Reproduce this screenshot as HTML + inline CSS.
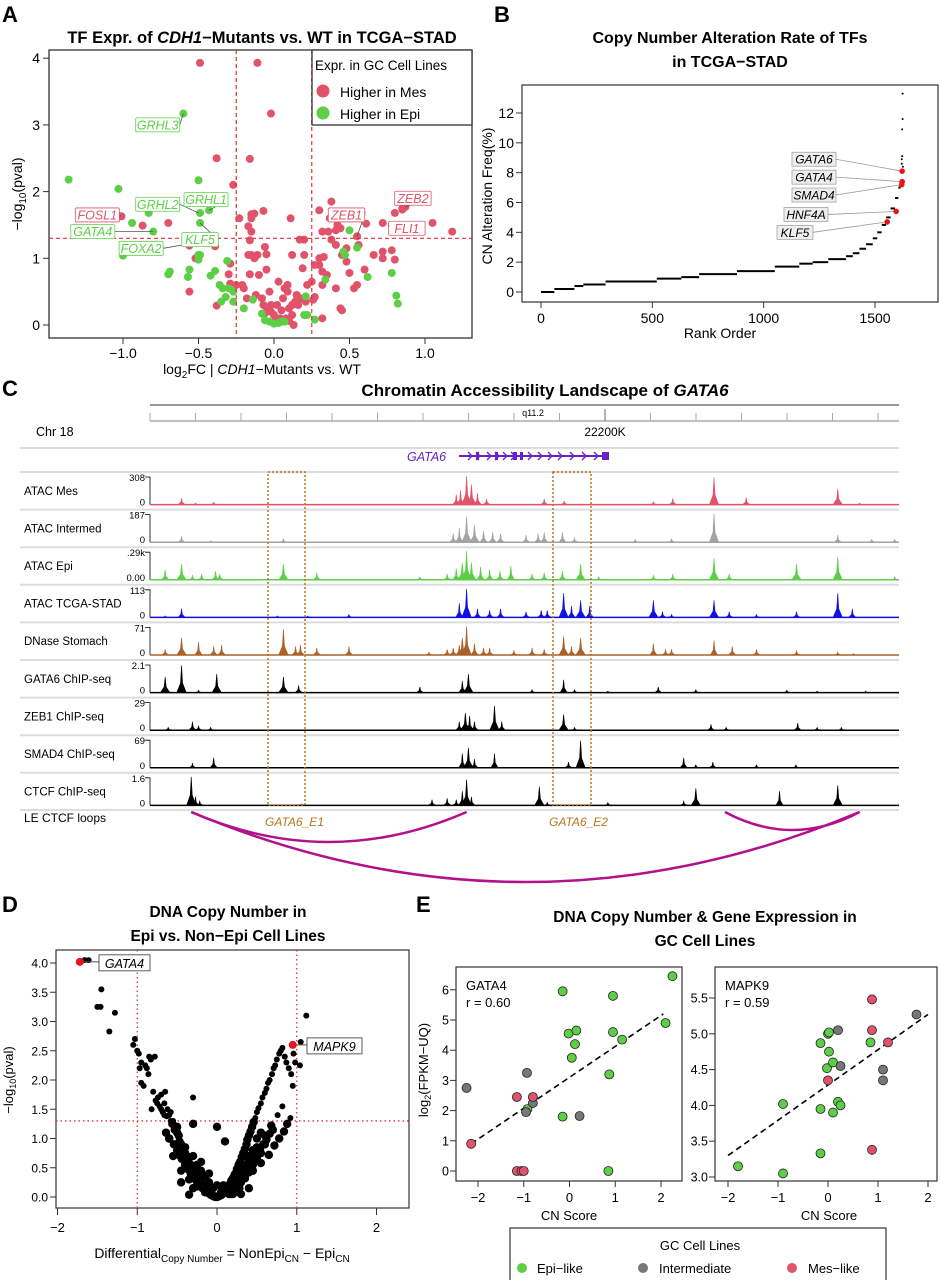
<!DOCTYPE html>
<html><head><meta charset="utf-8"><style>
html,body{margin:0;padding:0;background:#fff;}
svg{display:block;font-family:"Liberation Sans",sans-serif;}
</style></head><body>
<svg id="fig" width="940" height="1280" viewBox="0 0 940 1280" xmlns="http://www.w3.org/2000/svg">
<g>
<text x="2" y="22" font-size="22" font-weight="bold">A</text>
<text x="262" y="43" font-size="16.5" font-weight="bold" text-anchor="middle">TF Expr. of <tspan font-style="italic">CDH1</tspan>−Mutants vs. WT in TCGA−STAD</text>
<rect x="49" y="50" width="423" height="288" fill="none" stroke="#333" stroke-width="1.3"/>
<text transform="translate(22,194) rotate(-90)" font-size="14" text-anchor="middle">−log<tspan font-size="10" dy="4">10</tspan><tspan dy="-4">(pval)</tspan></text>
<text x="262" y="374" font-size="14" text-anchor="middle">log<tspan font-size="10" dy="4">2</tspan><tspan dy="-4">FC | </tspan><tspan font-style="italic">CDH1</tspan>−Mutants vs. WT</text>
<g id="aPts"></g>
<g id="aAxes"></g>
<g>
<rect x="312" y="50" width="160" height="75" fill="#fff" stroke="#333" stroke-width="1.3"/>
<text x="315" y="70" font-size="13.5">Expr. in GC Cell Lines</text>
<circle cx="323" cy="91" r="6.5" fill="#e0536a"/>
<text x="340" y="97" font-size="14">Higher in Mes</text>
<circle cx="323" cy="113" r="6.5" fill="#5ccf47"/>
<text x="340" y="119" font-size="14">Higher in Epi</text>
</g>
</g>
<g>
<text x="494" y="22" font-size="22" font-weight="bold">B</text>
<text x="730" y="43" font-size="16" font-weight="bold" text-anchor="middle">Copy Number Alteration Rate of TFs</text>
<text x="730" y="67" font-size="16" font-weight="bold" text-anchor="middle">in TCGA−STAD</text>
<rect x="522" y="85" width="416" height="217" fill="none" stroke="#333" stroke-width="1.2"/>
<text transform="translate(492,196) rotate(-90)" font-size="14" text-anchor="middle">CN Alteration Freq(%)</text>
<text x="720" y="338" font-size="14" text-anchor="middle">Rank Order</text>
<g id="bPlot"></g>
</g>
<g>
<text x="2" y="396" font-size="22" font-weight="bold">C</text>
<text x="545" y="396" font-size="17" font-weight="bold" text-anchor="middle">Chromatin Accessibility Landscape of <tspan font-style="italic">GATA6</tspan></text>
<line x1="150" y1="405" x2="899" y2="405" stroke="#999" stroke-width="2"/>
<line x1="150" y1="421" x2="899" y2="421" stroke="#aaa" stroke-width="1.5"/>
<text x="533" y="416" font-size="9" text-anchor="middle">q11.2</text>
<text x="605" y="436" font-size="12" text-anchor="middle">22200K</text>
<text x="36" y="436" font-size="12.5">Chr 18</text>
<g id="cTracks"></g>
<text x="407" y="461" font-size="12.5" font-style="italic" fill="#6a22c4">GATA6</text>
<g id="cGene"></g>
<text x="24" y="822" font-size="12">LE CTCF loops</text>
<text x="265" y="826" font-size="12" font-style="italic" fill="#b8741e">GATA6_E1</text>
<text x="549" y="826" font-size="12" font-style="italic" fill="#b8741e">GATA6_E2</text>
<rect x="268" y="472" width="37" height="333" fill="none" stroke="#b8741e" stroke-width="1.5" stroke-dasharray="2,2"/>
<rect x="553" y="472" width="38" height="333" fill="none" stroke="#b8741e" stroke-width="1.5" stroke-dasharray="2,2"/>
<g id="cLoops"></g>
</g>
<g>
<text x="2" y="912" font-size="22" font-weight="bold">D</text>
<text x="228" y="917" font-size="15.5" font-weight="bold" text-anchor="middle">DNA Copy Number in</text>
<text x="228" y="941" font-size="15.5" font-weight="bold" text-anchor="middle">Epi vs. Non−Epi Cell Lines</text>
<rect x="56" y="950" width="353" height="258" fill="none" stroke="#333" stroke-width="1.2"/>
<text transform="translate(13,1080) rotate(-90)" font-size="13" text-anchor="middle">−log<tspan font-size="9" dy="3">10</tspan><tspan dy="-3">(pval)</tspan></text>
<text x="222" y="1258" font-size="14" text-anchor="middle">Differential<tspan font-size="10" dy="4">Copy Number</tspan><tspan dy="-4"> = NonEpi</tspan><tspan font-size="10" dy="4">CN</tspan><tspan dy="-4"> − Epi</tspan><tspan font-size="10" dy="4">CN</tspan></text>
<g id="dPlot"></g>
</g>
<g>
<text x="416" y="912" font-size="22" font-weight="bold">E</text>
<text x="705" y="922" font-size="15.5" font-weight="bold" text-anchor="middle">DNA Copy Number &amp; Gene Expression in</text>
<text x="705" y="946" font-size="15.5" font-weight="bold" text-anchor="middle">GC Cell Lines</text>
<text transform="translate(428,1070) rotate(-90)" font-size="13" text-anchor="middle">log<tspan font-size="9" dy="3">2</tspan><tspan dy="-3">(FPKM−UQ)</tspan></text>
<text x="569" y="1220" font-size="13" text-anchor="middle">CN Score</text>
<text x="829" y="1220" font-size="13" text-anchor="middle">CN Score</text>
<g id="ePlot"></g>
<g>
<rect x="510" y="1228" width="376" height="55" fill="#fff" stroke="#333" stroke-width="1.2"/>
<text x="700" y="1250" font-size="13" text-anchor="middle">GC Cell Lines</text>
<circle cx="522" cy="1268" r="5" fill="#5ccf47"/>
<text x="537" y="1273" font-size="13">Epi−like</text>
<circle cx="643" cy="1268" r="5" fill="#777"/>
<text x="659" y="1273" font-size="13">Intermediate</text>
<circle cx="792" cy="1268" r="5" fill="#e0536a"/>
<text x="808" y="1273" font-size="13">Mes−like</text>
</g>
</g>
</svg>
<script>
// ---------- Panel A data ----------
const aMesX=[-0.49,-0.11,-0.02,-0.38,-0.16,-0.27,-1.01,-0.87,-0.70,-0.56,-0.52,-0.39,-0.56,-0.38,-0.29,-0.30,-0.29,-0.25,-0.23,-0.15,-0.13,-0.15,-0.07,-0.17,-0.15,-0.13,-0.16,-0.06,-0.05,-0.17,-0.15,-0.11,-0.05,-0.10,-0.16,-0.21,-0.20,-0.18,-0.12,-0.08,-0.07,-0.04,-0.02,0.00,0.02,0.05,0.07,0.09,0.10,0.12,0.14,0.16,0.18,0.20,0.12,0.08,0.04,0.11,0.12,0.17,0.20,0.20,0.19,0.21,0.27,0.25,0.27,0.30,0.30,0.32,0.33,0.30,0.32,0.35,0.32,0.37,0.38,0.36,0.38,0.41,0.41,0.42,0.44,0.45,0.48,0.50,0.48,0.56,0.55,0.58,0.61,0.60,0.55,0.53,0.44,0.45,0.32,0.41,0.72,0.72,0.66,0.72,0.78,0.80,0.78,0.81,0.85,0.85,0.87,0.84,0.80,1.05,1.18,-0.02,-0.06,0.06,0.15,0.09,-0.03,0.03,0.22,0.10,0.00,0.13,0.26];
const aMesY=[3.93,3.93,3.17,2.50,2.49,2.10,1.63,1.49,1.53,1.19,1.00,1.18,0.50,0.29,0.92,0.76,0.62,0.60,1.60,1.66,1.67,1.60,1.71,1.48,1.40,1.00,1.27,1.17,1.06,1.05,1.05,1.05,0.83,0.75,0.76,0.60,0.55,0.40,0.45,0.40,0.30,0.25,0.20,0.15,0.30,0.22,0.55,0.60,0.25,0.30,0.35,0.30,0.40,0.38,0.15,0.10,0.10,1.60,1.05,1.28,1.28,1.05,0.85,0.35,0.42,0.65,0.90,1.00,1.72,1.40,1.02,0.90,0.80,0.75,0.60,1.60,1.85,1.40,1.28,1.42,1.20,1.50,1.45,1.05,0.95,0.78,1.15,1.20,1.33,1.68,1.52,0.83,0.60,0.55,0.25,0.22,0.10,0.55,1.53,1.10,1.05,1.00,1.12,1.68,1.50,1.50,1.73,1.75,1.77,1.40,0.98,1.53,1.40,0.30,0.18,0.40,0.45,0.50,0.50,0.65,0.60,0.06,0.05,0.00,0.38];
const aEpiX=[-1.36,-1.03,-0.94,-1.00,-0.83,-0.80,-0.69,-0.70,-0.57,-0.56,-0.60,-0.50,-0.49,-0.43,-0.49,-0.53,-0.50,-0.49,-0.50,-0.39,-0.42,-0.36,-0.34,-0.31,-0.30,-0.27,-0.32,-0.27,-0.20,-0.14,-0.08,-0.06,-0.03,0.00,0.03,0.05,0.07,0.21,0.20,0.22,0.27,0.34,0.46,0.47,0.50,0.55,0.62,0.78,0.81,0.82,-0.35];
const aEpiY=[2.18,2.04,1.53,1.04,1.68,1.40,0.80,0.76,0.72,0.83,3.17,2.17,1.68,1.72,1.53,1.23,1.05,1.05,0.98,0.81,0.74,0.60,0.55,0.96,0.55,0.50,0.42,0.35,0.25,0.38,0.17,0.07,0.05,0.02,0.03,0.05,0.05,0.43,0.15,0.15,0.08,0.68,1.10,1.05,1.42,1.16,0.72,0.78,0.44,0.32,0.35];
const aXTicks=["-1.0","-0.5","0.0","0.5","1.0"];
const aYTicks=["0","1","2","3","4"];
const aLabNames=["GRHL3","FOSL1","GRHL2","GRHL1","GATA4","FOXA2","KLF5","ZEB2","ZEB1","FLI1"];
const aLabGroup=["epi","mes","epi","epi","epi","epi","epi","mes","mes","mes"];
const aLabX=[-0.77,-1.17,-0.77,-0.45,-1.20,-0.88,-0.49,0.92,0.48,0.88];
const aLabY=[3.00,1.65,1.81,1.88,1.40,1.15,1.28,1.90,1.65,1.45];
const aPtX=[-0.6,-1.01,-0.50,-0.43,-0.80,-0.53,-0.49,0.87,0.55,0.84];
const aPtY=[3.17,1.63,1.68,1.72,1.40,1.23,1.53,1.77,1.33,1.50];

// ---------- Panel B data ----------
const bRankBreaks=[0,60,150,190,290,520,630,710,880,1050,1160,1220,1290,1370,1400,1430,1460,1490,1510,1530,1550,1570,1590,1605,1615];
const bFreqVals=[0,0.2,0.4,0.5,0.7,0.9,1.0,1.2,1.4,1.7,1.9,2.0,2.2,2.4,2.6,2.9,3.2,3.6,4.0,4.5,5.0,5.6,6.3,7.0];
const bOutRank=[1620,1620,1622,1622,1624,1624,1625];
const bOutFreq=[8.6,8.9,9.1,10.9,11.6,13.3,8.4];
const bHighNames=["GATA6","GATA4","SMAD4","HNF4A","KLF5"];
const bHighRank=[1622,1622,1620,1595,1555];
const bHighFreq=[8.1,7.4,7.2,5.4,4.7];
const bLabelFreq=[8.9,7.7,6.5,5.2,4.0];
const bXTicks=[0,500,1000,1500];
const bYTicks=[0,2,4,6,8,10,12];

// ---------- Panel C data ----------
const cTrackNames=["ATAC Mes","ATAC Intermed","ATAC Epi","ATAC TCGA-STAD","DNase Stomach","GATA6 ChIP-seq","ZEB1 ChIP-seq","SMAD4 ChIP-seq","CTCF ChIP-seq"];
const cTrackMax=["308","187",".29k","113","71","2.1","29","69","1.6"];
const cTrackMin=["0","0","0.00","0","0","0","0","0","0"];
const cTrackColors=["#e0536a","#a3a3a3","#5ccf47","#1212e0","#a8622a","#000","#000","#000","#000"];
const cPeakPos=[
[52,75,105,505,512,522,530,540,555,650,683,830,862,930,983,1134,1170],
[52,100,220,500,510,522,535,550,565,578,620,640,650,680,700,800,860,930,1134,1190,1228],
[25,52,70,85,108,115,220,275,445,490,505,515,522,530,545,560,577,595,630,650,680,710,740,830,862,930,955,1066,1134,1228],
[25,52,210,260,328,510,522,540,560,578,620,645,655,682,695,710,725,830,845,860,930,955,1000,1066,1134,1158],
[25,52,80,105,118,220,240,248,275,328,460,490,500,510,515,522,535,550,560,600,630,650,682,695,710,830,850,860,930,960,1000,1066,1134,1160],
[25,52,80,110,220,245,445,515,525,630,682,700,755,838,900,1050,1100,1180],
[30,70,80,100,510,520,527,535,568,580,682,700,925,950,1068,1100,1140],
[70,105,515,525,535,568,690,710,880,900,928,1000,1065],
[68,75,82,250,465,490,505,515,522,530,642,655,755,880,900,1038,1134]];
const cPeakHt=[
[.22,.05,.08,.35,.5,1.0,.7,.4,.2,.2,.12,.1,.22,.95,.25,.55,.05],
[.2,.05,.12,.3,.5,.9,.6,.4,.35,.3,.25,.3,.35,.35,.15,.1,.12,1.0,.25,.1,.1],
[.35,.55,.15,.2,.3,.2,.55,.25,.1,.2,.4,.6,1.0,.6,.45,.35,.3,.5,.2,.25,.3,.55,.1,.15,.2,.75,.2,.55,.8,.1],
[.05,.3,.05,.05,.1,.5,1.0,.3,.25,.3,.2,.25,.25,.85,.4,.6,.4,.6,.2,.1,.6,.2,.1,.2,.85,.3],
[.2,.6,.45,.3,.35,.9,.3,.35,.25,.3,.1,.2,.25,.35,.6,1.0,.4,.25,.25,.15,.25,.2,.65,.3,.6,.4,.2,.2,.5,.3,.2,.15,.1,.05],
[.55,.95,.08,.65,.55,.25,.2,.4,.65,.1,.45,.1,.05,.2,.1,.08,.05,.05],
[.1,.3,.15,.1,.3,.6,.5,.3,.85,.3,.55,.1,.2,.1,.25,.1,.1],
[.15,.35,.5,.7,.3,.5,.2,.95,.35,.1,.2,.1,.1],
[1.0,.3,.15,.05,.2,.25,.2,.5,.9,.3,.65,.1,.1,.15,.6,.5,.7]];
const cGenomeMax=1235;
const cLoopStart=[68,68,948];
const cLoopEnd=[522,1170,1170];
const cLoopDepth=[30,70,18];

// ---------- Panel D data ----------
const dX=[-1.72,-1.66,-1.61,-1.45,-1.50,-1.46,-1.28,-1.35,-1.03,-1.05,-1.00,-0.98,-0.95,-0.97,-0.90,-0.85,-0.78,-0.95,-0.92,-0.80,-0.70,-0.65,-0.75,-0.70,-0.62,-0.60,-0.55,-0.52,-0.88,-0.83,-0.86,-0.77,-0.72,-0.68,-0.66,-0.63,-0.58,-0.56,-0.53,-0.50,-0.48,-0.47,-0.45,-0.43,-0.42,-0.40,-0.38,-0.36,-0.35,-0.33,-0.31,-0.30,-0.28,-0.27,-0.25,-0.24,-0.22,-0.20,-0.19,-0.17,-0.15,-0.14,-0.12,-0.10,-0.09,-0.07,-0.05,-0.04,-0.02,0.00,0.01,0.03,0.05,0.06,0.08,0.10,0.11,0.13,0.15,0.17,0.18,0.20,0.22,0.24,0.25,0.27,0.29,0.31,0.33,0.35,0.37,0.38,0.40,0.42,0.44,0.46,0.48,0.50,0.52,0.55,0.57,0.60,0.62,0.64,0.66,0.69,0.71,0.73,0.75,0.78,0.80,0.82,0.85,0.87,0.90,0.93,0.96,0.98,1.05,1.12,1.04,0.95,-0.54,-0.50,-0.46,-0.44,-0.40,-0.37,-0.33,-0.30,-0.26,-0.22,-0.18,-0.14,-0.10,-0.06,-0.02,0.02,0.06,0.10,0.14,0.18,0.22,0.26,0.30,0.34,0.38,0.42,0.46,0.50,0.54,0.58,0.62,0.66,0.70,-0.60,-0.64,-0.45,-0.35,-0.25,-0.15,-0.05,0.05,0.15,0.25,0.35,0.45,0.55,0.65,0.72,0.78,0.84,0.88,0.92,-0.82,-0.74,-0.66,-0.58,-0.30,-0.20,-0.10,0.00,0.10,0.20,0.30,0.40,0.50,0.60,0.68,0.76,0.82,-0.30,-0.18,-0.08,0.08,0.18,0.28,
-0.45,-0.40,-0.35,-0.30,-0.25,-0.20,-0.15,-0.10,-0.35,-0.30,-0.25,-0.20,-0.15,-0.10,-0.05,0.05,0.10,0.15,0.20,0.25,0.30,0.35,0.40,0.45,0.10,0.15,0.20,0.25,0.30,0.35,0.40,0.45,0.50,0.55,0.60,0.50,0.55,-0.50,-0.45,-0.40,-0.55,-0.60,0.00,-0.08,0.08,-0.20,0.20,0.30,-0.30,0.40];
const dY=[4.02,4.05,4.05,3.55,3.25,3.25,3.15,2.83,2.70,2.60,2.50,2.45,2.30,2.20,2.25,2.40,2.40,1.95,1.90,1.80,1.75,1.80,1.60,1.50,1.50,1.40,1.30,1.20,2.20,2.35,2.10,1.65,1.55,1.45,1.40,1.38,1.30,1.25,1.15,1.10,1.05,0.95,0.90,0.85,0.80,0.75,0.70,0.62,0.58,0.55,0.50,0.45,0.42,0.38,0.35,0.30,0.25,0.22,0.18,0.15,0.12,0.10,0.08,0.06,0.05,0.03,0.02,0.01,0.00,0.00,0.01,0.02,0.04,0.06,0.08,0.10,0.13,0.16,0.20,0.24,0.28,0.32,0.38,0.42,0.48,0.55,0.60,0.68,0.75,0.82,0.90,0.98,1.05,1.12,1.20,1.28,1.35,1.45,1.52,1.60,1.70,1.78,1.85,1.95,2.00,2.10,2.20,2.25,2.35,2.45,2.50,2.55,2.40,2.30,2.20,2.10,2.45,2.30,2.65,3.10,2.25,1.90,0.90,0.80,0.70,0.65,0.55,0.48,0.40,0.35,0.28,0.22,0.15,0.10,0.06,0.03,0.01,0.01,0.04,0.08,0.13,0.18,0.24,0.30,0.38,0.45,0.52,0.60,0.68,0.75,0.82,0.90,0.98,1.08,1.15,1.00,1.10,0.45,0.30,0.18,0.08,0.02,0.03,0.10,0.20,0.32,0.45,0.58,0.72,0.88,1.00,1.12,1.25,1.35,1.50,1.70,1.60,1.45,1.25,0.60,0.40,0.20,0.08,0.22,0.45,0.65,0.85,1.05,1.22,1.40,1.55,1.70,0.15,0.05,0.12,0.05,0.15,0.25,
0.60,0.50,0.40,0.30,0.22,0.15,0.08,0.04,0.70,0.55,0.45,0.35,0.25,0.15,0.08,0.08,0.15,0.25,0.35,0.45,0.55,0.70,0.80,0.95,0.05,0.10,0.18,0.25,0.32,0.42,0.55,0.65,0.75,0.90,1.00,1.10,1.20,0.75,0.85,0.70,1.00,1.20,0.10,0.20,0.25,0.05,0.05,0.15,0.15,0.30];
const dHiNames=["GATA4","MAPK9"];
const dHiX=[-1.72,0.95];
const dHiY=[4.02,2.60];
const dXTicks=[-2,-1,0,1,2];
const dYTicks=["0.0","0.5","1.0","1.5","2.0","2.5","3.0","3.5","4.0"];

// ---------- Panel E data ----------
const eG4X=[-0.15,0.95,2.25,-0.02,0.15,0.95,1.15,2.10,0.12,0.05,0.87,-0.15,-0.92,0.85,-2.25,-0.93,-0.80,-0.95,0.22,-2.15,-1.15,-0.80,-1.15,-1.05,-1.00];
const eG4Y=[5.95,5.80,6.45,4.55,4.65,4.60,4.35,4.90,4.20,3.75,3.20,1.80,2.05,0.00,2.75,3.25,2.25,1.95,1.82,0.90,2.45,2.45,0.00,0.00,0.00];
const eG4Grp=["epi","epi","epi","epi","epi","epi","epi","epi","epi","epi","epi","epi","epi","epi","int","int","int","int","int","mes","mes","mes","mes","mes","mes"];
const eM9X=[-1.80,-0.90,-0.90,-0.15,-0.15,-0.15,0.00,0.02,-0.02,0.10,0.10,0.20,0.25,0.02,0.85,0.20,0.25,1.10,1.10,1.77,0.88,0.88,1.20,0.00,0.88];
const eM9Y=[3.15,3.05,4.02,3.33,3.95,4.87,5.00,4.75,4.52,4.60,3.90,4.05,4.00,5.02,4.88,5.05,4.55,4.50,4.35,5.27,5.48,5.05,4.88,4.35,3.38];
const eM9Grp=["epi","epi","epi","epi","epi","epi","epi","epi","epi","epi","epi","epi","epi","epi","epi","int","int","int","int","int","mes","mes","mes","mes","mes"];
const eFitG4=[-2.15,0.90,2.05,5.20];
const eFitM9=[-2.00,3.30,2.00,5.27];
const eG4Ticks=[0,1,2,3,4,5,6];
const eM9Ticks=["3.0","3.5","4.0","4.5","5.0","5.5"];
const eXTicks=[-2,-1,0,1,2];

const NS="http://www.w3.org/2000/svg";
function mk(parent,tag,attrs){const e=document.createElementNS(NS,tag);for(const k in attrs)e.setAttribute(k,attrs[k]);parent.appendChild(e);return e;}
const COL={mes:"#e0536a",epi:"#5ccf47",int:"#777"};

(function(){
 const g=document.getElementById('aPts'), ax=document.getElementById('aAxes');
 const sx=v=>274+v*151, sy=v=>325-v*66.7;
 [[-0.25,'v'],[0.25,'v'],[1.3,'h']].forEach(([v,o])=>{
  const l=o==='v'?mk(ax,'line',{x1:sx(v),x2:sx(v),y1:50,y2:338,stroke:'#e0303a','stroke-width':1.2,'stroke-dasharray':'4,3'}):mk(ax,'line',{x1:49,x2:472,y1:sy(v),y2:sy(v),stroke:'#e0303a','stroke-width':1.2,'stroke-dasharray':'4,3'});
  
  
 });
 aMesX.forEach((x,i)=>{const c=mk(g,'circle',{cx:sx(x),cy:sy(aMesY[i]),r:4,fill:COL.mes});
  
  });
 aEpiX.forEach((x,i)=>{const c=mk(g,'circle',{cx:sx(x),cy:sy(aEpiY[i]),r:4,fill:COL.epi});
  
  });
 aXTicks.forEach(t=>{const v=parseFloat(t);
  const l=mk(ax,'line',{x1:sx(v),x2:sx(v),y1:338,y2:344,stroke:'#333'});
  
  
  const tx=mk(ax,'text',{x:sx(v),y:358,'font-size':14,'text-anchor':'middle'});tx.textContent=t.replace('-','−');
  
  });
 aYTicks.forEach(t=>{const v=parseFloat(t);
  const l=mk(ax,'line',{x1:43,x2:49,y1:sy(v),y2:sy(v),stroke:'#333'});
  
  
  const tx=mk(ax,'text',{x:40,y:sy(v)+5,'font-size':14,'text-anchor':'end'});tx.textContent=t;
  
  });
 aLabNames.forEach((n,i)=>{
  const c=COL[aLabGroup[i]], x=sx(aLabX[i]), y=sy(aLabY[i]);
  const w=n.length*7.6+6;
  const ln=mk(ax,'line',{x1:x+w/2,y1:y,x2:sx(aPtX[i]),y2:sy(aPtY[i]),stroke:'#555','stroke-width':0.8});
  
  
  const r=mk(ax,'rect',{x:x-w/2,y:y-7,width:w,height:14,fill:'#fff',stroke:c,'stroke-width':0.8,rx:1});
  
  
  const t=mk(ax,'text',{x:x,y:y+4.5,'font-size':12.5,'font-style':'italic',fill:c,'text-anchor':'middle'});t.textContent=n;
  
  
 });
})();

(function(){
 const g=document.getElementById('bPlot');
 const sx=v=>541+v*(334/1500), sy=v=>292-v*(179/12);
 for(let i=0;i<bFreqVals.length;i++){
  const l=mk(g,'line',{x1:sx(bRankBreaks[i]),x2:sx(bRankBreaks[i+1]),y1:sy(bFreqVals[i]),y2:sy(bFreqVals[i]),stroke:'#000','stroke-width':2});
  
  
 }
 bOutRank.forEach((r,i)=>{const c=mk(g,'circle',{cx:sx(r),cy:sy(bOutFreq[i]),r:1,fill:'#000'});
  
  });
 bHighNames.forEach((n,i)=>{
  const px=sx(bHighRank[i]), py=sy(bHighFreq[i]);
  const lx=836-(i>2?8:0)-(i==4?15:0), ly=sy(bLabelFreq[i]);
  const w=n.length*8+4;
  const ln=mk(g,'line',{x1:lx,y1:ly,x2:px,y2:py,stroke:'#999','stroke-width':0.8});
  
  
  const r=mk(g,'rect',{x:lx-w,y:ly-7,width:w,height:14,fill:'#eee',stroke:'#999','stroke-width':0.7});
  
  
  const t=mk(g,'text',{x:lx-w/2,y:ly+4.5,'font-size':12,'font-style':'italic','text-anchor':'middle'});t.textContent=n;
  
  
  const c=mk(g,'circle',{cx:px,cy:py,r:2.8,fill:'#e8141c'});
  
  
 });
 bXTicks.forEach(v=>{const l=mk(g,'line',{x1:sx(v),x2:sx(v),y1:302,y2:308,stroke:'#333'});
  
  
  const t=mk(g,'text',{x:sx(v),y:323,'font-size':14,'text-anchor':'middle'});t.textContent=v;
  
  });
 bYTicks.forEach(v=>{const l=mk(g,'line',{x1:516,x2:522,y1:sy(v),y2:sy(v),stroke:'#333'});
  
  
  const t=mk(g,'text',{x:514,y:sy(v)+5,'font-size':14,'text-anchor':'end'});t.textContent=v;
  
  });
})();

(function(){
 const g=document.getElementById('cTracks');
 const gx=p=>150+p/cGenomeMax*749;
 const rt=mk(g,'g',{});
 
 
 for(let i=0;i<=16;i++){const x=150+i*45.5;mk(rt,'line',{x1:x,x2:x,y1:413,y2:421,stroke:'#aaa'});}
 mk(rt,'line',{x1:605,x2:605,y1:409,y2:421,stroke:'#999','stroke-width':1.5});
 const s0=mk(g,'line',{x1:20,x2:899,y1:448,y2:448,stroke:'#ddd','stroke-width':2});
 
 
 const step=37.6;
 cTrackNames.forEach((name,i)=>{
  const top=472+i*step, base=top+step-5, H=step-9;
  const sep=mk(g,'line',{x1:20,x2:899,y1:top,y2:top,stroke:'#ddd','stroke-width':2});
  
  
  const lab=mk(g,'text',{x:24,y:top+step/2+4,'font-size':11.5});lab.textContent=name;
  
  
  const mx=mk(g,'text',{x:145,y:top+9,'font-size':9.5,'text-anchor':'end'});mx.textContent=cTrackMax[i];
  
  
  const mn=mk(g,'text',{x:145,y:base+1,'font-size':9.5,'text-anchor':'end'});mn.textContent=cTrackMin[i];
  
  
  const br=mk(g,'path',{d:`M145 ${top+5} H150 V${base}`,fill:'none',stroke:'#000','stroke-width':0.8});
  
  
  const bl=mk(g,'line',{x1:150,x2:899,y1:base,y2:base,stroke:cTrackColors[i],'stroke-width':1.5});
  
  
  let d='';
  cPeakPos[i].forEach((p,j)=>{const x=gx(p),h=cPeakHt[i][j]*H,w=h>H*0.5?2.6:2.0;d+=`M${x-w*1.8} ${base} L${x-w*0.4} ${base-h*0.35} L${x} ${base-h} L${x+w*0.4} ${base-h*0.35} L${x+w*1.8} ${base} Z `;});
  const pk=mk(g,'path',{d:d,fill:cTrackColors[i],stroke:cTrackColors[i],'stroke-width':0.6});
  
  
 });
 const sl=mk(g,'line',{x1:20,x2:899,y1:810,y2:810,stroke:'#ddd','stroke-width':2});
 
 
 const gg=document.getElementById('cGene');
 const gl=mk(gg,'line',{x1:459,x2:608,y1:456,y2:456,stroke:'#6a22c4','stroke-width':2});
 
 
 [470,478,489,497,505,513,530,540,550,560,572,584,596].forEach(x=>{mk(gg,'path',{d:`M${x-2} 452 L${x+2} 456 L${x-2} 460`,fill:'none',stroke:'#6a22c4','stroke-width':1.3});});
 [[476,3],[495,3],[513,4],[520,3],[602,7]].forEach(([x,w])=>{mk(gg,'rect',{x:x,y:452,width:w,height:8,fill:'#6a22c4'});});
 const lg=document.getElementById('cLoops');
 cLoopStart.forEach((s,i)=>{
  const x1=gx(s),x2=gx(cLoopEnd[i]),y0=812,ctrl=y0+2*cLoopDepth[i];
  const p=mk(lg,'path',{d:`M${x1} ${y0} Q${(x1+x2)/2} ${ctrl} ${x2} ${y0}`,fill:'none',stroke:'#b3108c','stroke-width':2.5});
  
  
 });
})();

(function(){
 const g=document.getElementById('dPlot');
 const sx=v=>217+v*79.75, sy=v=>1197-v*58.5;
 [[-1,'v'],[1,'v'],[1.3,'h']].forEach(([v,o])=>{
  const l=o==='v'?mk(g,'line',{x1:sx(v),x2:sx(v),y1:950,y2:1208,stroke:'#e0303a','stroke-width':1.3,'stroke-dasharray':'1.5,3'}):mk(g,'line',{x1:56,x2:409,y1:sy(v),y2:sy(v),stroke:'#e0303a','stroke-width':1.3,'stroke-dasharray':'1.5,3'});
  
  
 });
 dX.forEach((x,i)=>{const c=mk(g,'circle',{cx:sx(x),cy:sy(dY[i]),r:dY[i]<1.3?4.2:3,fill:'#000'});
  
  });
 dHiNames.forEach((n,i)=>{
  const px=sx(dHiX[i]),py=sy(dHiY[i]);
  const bx=i==0?99:307, w=i==0?51:55;
  const ln=mk(g,'line',{x1:px,y1:py,x2:bx,y2:py,stroke:'#555'});
  
  
  const r=mk(g,'rect',{x:bx,y:py-7,width:w,height:16,fill:'#fff',stroke:'#333','stroke-width':0.8});
  
  
  const t=mk(g,'text',{x:bx+w/2,y:py+6,'font-size':12.5,'font-style':'italic','text-anchor':'middle'});t.textContent=n;
  
  
  const c=mk(g,'circle',{cx:px,cy:py,r:4,fill:'#e8141c'});
  
  
 });
 dXTicks.forEach(v=>{const l=mk(g,'line',{x1:sx(v),x2:sx(v),y1:1208,y2:1215,stroke:'#333'});
  
  
  const t=mk(g,'text',{x:sx(v),y:1232,'font-size':13,'text-anchor':'middle'});t.textContent=String(v).replace('-','−');
  
  });
 dYTicks.forEach(tk=>{const v=parseFloat(tk);const l=mk(g,'line',{x1:50,x2:56,y1:sy(v),y2:sy(v),stroke:'#333'});
  
  
  const t=mk(g,'text',{x:48,y:sy(v)+4.5,'font-size':12,'text-anchor':'end'});t.textContent=tk;
  
  });
})();

(function(){
 const g=document.getElementById('ePlot');
 function panel(name,bx0,bx1,xs,ys,grp,fit,yt,sx,sy,rtext){
  const fr=mk(g,'rect',{x:bx0,y:967,width:bx1-bx0,height:214,fill:'none',stroke:'#333','stroke-width':1.2});
  
  
  const t1=mk(g,'text',{x:bx0+10,y:990,'font-size':13});t1.textContent=name.toUpperCase();
  
  
  const t2=mk(g,'text',{x:bx0+10,y:1007,'font-size':13});t2.textContent=rtext;
  
  
  const fl=mk(g,'line',{x1:sx(fit[0]),y1:sy(fit[1]),x2:sx(fit[2]),y2:sy(fit[3]),stroke:'#000','stroke-width':1.6,'stroke-dasharray':'6,4'});
  
  
  xs.forEach((x,i)=>{const c=mk(g,'circle',{cx:sx(x),cy:sy(ys[i]),r:4.5,fill:COL[grp[i]],stroke:'#222','stroke-width':0.8});
   
   });
  eXTicks.forEach(v=>{const l=mk(g,'line',{x1:sx(v),x2:sx(v),y1:1181,y2:1187,stroke:'#333'});
   
   
   const t=mk(g,'text',{x:sx(v),y:1202,'font-size':13,'text-anchor':'middle'});t.textContent=String(v).replace('-','−');
   
   });
  yt.forEach(tk=>{const v=parseFloat(tk);const l=mk(g,'line',{x1:bx0-6,x2:bx0,y1:sy(v),y2:sy(v),stroke:'#333'});
   
   
   const t=mk(g,'text',{x:bx0-7,y:sy(v)+4.5,'font-size':12.5,'text-anchor':'end'});t.textContent=tk;
   
   });
 }
 panel('gata4',456,682,eG4X,eG4Y,eG4Grp,eFitG4,eG4Ticks,v=>569.5+v*45.75,v=>1171-v*30.2,'r = 0.60');
 panel('mapk9',715,937,eM9X,eM9Y,eM9Grp,eFitM9,eM9Ticks,v=>828+v*50,v=>1177-(v-3)*71.6,'r = 0.59');
})();
</script>
</body></html>
